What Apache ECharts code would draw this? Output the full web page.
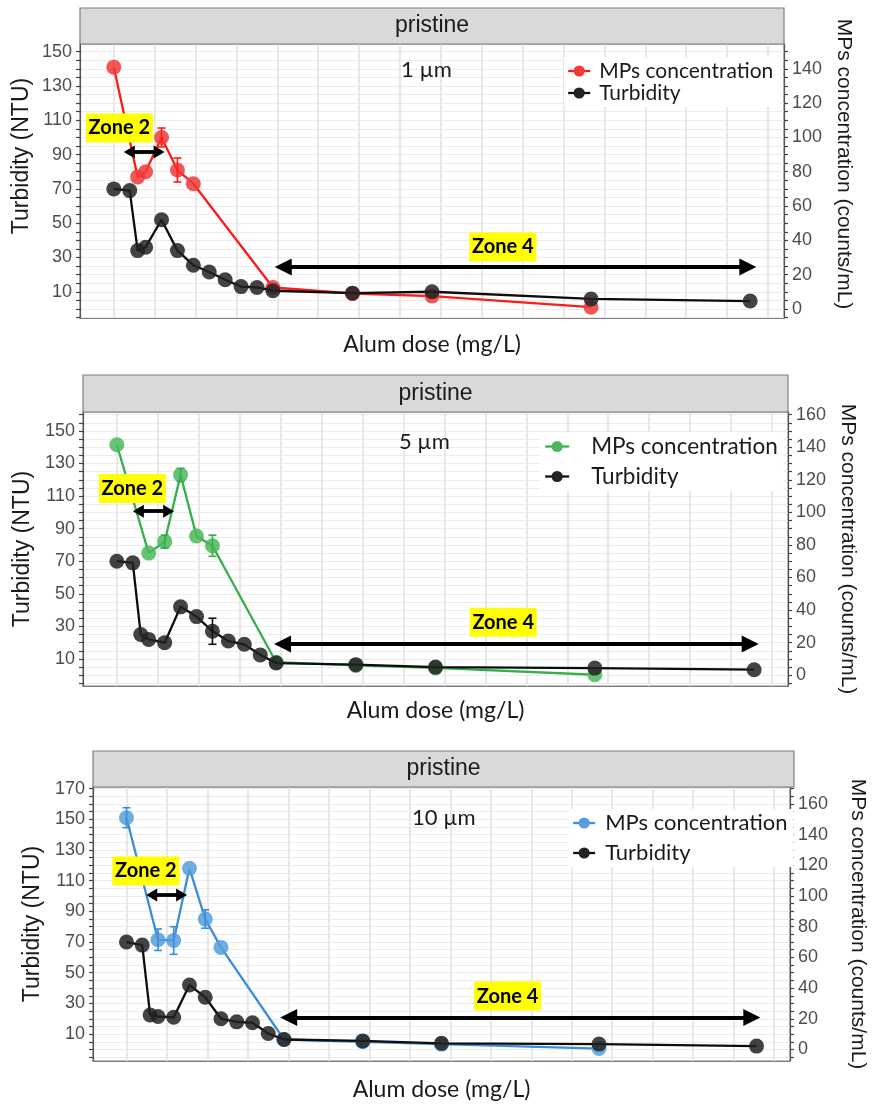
<!DOCTYPE html>
<html>
<head>
<meta charset="utf-8">
<script src="https://cdn.jsdelivr.net/npm/echarts@6/dist/echarts.min.js"></script>
<style>
  html, body { margin: 0; padding: 0; background: #ffffff; }
  #chart { width: 876px; height: 1107px; }
</style>
</head>
<body>
<div id="chart"></div>
<script>
// Alum dose steps (mg/L) used for the turbidity runs
const turbDoses = [0, 2, 3, 4, 6, 8, 10, 12, 14, 16, 18, 20, 30, 40, 60, 80];

// 1 µm particles
const mp1Doses  = [0, 3, 4, 6, 8, 10, 20, 30, 40, 60];
const mp1Values = [141, 77, 80, 100, 81, 73, 12.5, 9, 7.5, 1];
const mp1Err    = [0, 0, 0, 5.5, 7, 0, 0, 0, 0, 0];
const turb1Values = [70, 69, 34, 36, 52, 34, 25.5, 21.5, 17, 13, 12.5, 10.6, 9.2, 10, 5.8, 4.6];
const turb1Err    = [0, 0, 0, 0, 0, 0, 0, 0, 0, 0, 0, 0, 0, 0, 0, 0];

// 5 µm particles
const mp5Doses  = [0, 4, 6, 8, 10, 12, 20, 30, 40, 60];
const mp5Values = [141.5, 75, 82, 123, 85.5, 79.5, 8, 6, 4.5, 0.3];
const mp5Err    = [0, 0, 4, 4, 0, 6.5, 0, 0, 0, 0];
const turb5Values = [70, 69, 25, 22, 20, 42, 36, 27, 21, 19, 12.5, 7.5, 6.5, 5, 4.4, 3.4];
const turb5Err    = [0, 0, 0, 0, 0, 0, 0, 8, 0, 0, 0, 0, 0, 0, 0, 0];

// 10 µm particles
const mp10Doses  = [0, 4, 6, 8, 10, 12, 20, 30, 40, 60];
const mp10Values = [151, 71.5, 71, 118, 85, 66.5, 6.5, 5, 3.5, 0.6];
const mp10Err    = [6.5, 7, 9, 0, 6, 0, 0, 0, 0, 0];
const turb10Values = [70, 68, 22.5, 21.5, 21, 42, 34, 20, 18, 17.4, 10.4, 6.5, 5.6, 4, 3.5, 2.2];
const turb10Err    = [0, 0, 0, 0, 0, 0, 0, 0, 0, 0, 0, 0, 0, 0, 0, 0];

// Tick labels
const turbTicks1 = [10, 30, 50, 70, 90, 110, 130, 150];
const mpTicks1   = [0, 20, 40, 60, 80, 100, 120, 140];
const turbTicks5 = [10, 30, 50, 70, 90, 110, 130, 150];
const mpTicks5   = [0, 20, 40, 60, 80, 100, 120, 140, 160];
const turbTicks10 = [10, 30, 50, 70, 90, 110, 130, 150, 170];
const mpTicks10   = [0, 20, 40, 60, 80, 100, 120, 140, 160];

// Zone arrows and their tags, in axis units (dose, value)
const zones1 = [
  { name: 'Zone 2', from: 1.95, to: 5.7, y: 91.5, tagX: 0.7, tagY: 105.5, head: [13, 11] },
  { name: 'Zone 4', from: 21.3, to: 79.7, y: 24.4, tagX: 48.9, tagY: 36.1, head: [17, 17] }
];
const zones5 = [
  { name: 'Zone 2', from: 2.7, to: 6.5, y: 100.7, tagX: 1.95, tagY: 114.6, head: [13, 11] },
  { name: 'Zone 4', from: 20.8, to: 79.5, y: 19.2, tagX: 48.5, tagY: 32.6, head: [17, 17] }
];
const zones10 = [
  { name: 'Zone 2', from: 3.2, to: 7.0, y: 100.7, tagX: 2.46, tagY: 116.3, head: [13, 11] },
  { name: 'Zone 4', from: 20.6, to: 79.4, y: 20.9, tagX: 48.4, tagY: 34.8, head: [17, 17] }
];

const panels = [
  { size: '1 µm', sizeAt: [39.3, 139.3], color: '#ff1a1a', marker: '#f03a3a',
    mpDoses: mp1Doses, mpValues: mp1Values, mpErr: mp1Err,
    turbValues: turb1Values, turbErr: turb1Err,
    turbTicks: turbTicks1, mpTicks: mpTicks1, zones: zones1 },
  { size: '5 µm', sizeAt: [38.6, 143.5], color: '#33b04a', marker: '#4cb85c',
    mpDoses: mp5Doses, mpValues: mp5Values, mpErr: mp5Err,
    turbValues: turb5Values, turbErr: turb5Err,
    turbTicks: turbTicks5, mpTicks: mpTicks5, zones: zones5 },
  { size: '10 µm', sizeAt: [40.3, 151], color: '#3a8dd8', marker: '#559fdc',
    mpDoses: mp10Doses, mpValues: mp10Values, mpErr: mp10Err,
    turbValues: turb10Values, turbErr: turb10Err,
    turbTicks: turbTicks10, mpTicks: mpTicks10, zones: zones10 }
];

// Page layout of the three stacked panels
const layout = [
  { left: 80, top: 44, width: 704, height: 274, stripTop: 8, stripH: 36,
    yMin: -5.3, yMax: 154.5, xNameGap: 15, lNameGap: 47, rNameGap: 49,
    leftTitleAt: [22, 156], rightTitleAt: [844, 164],
    legend: { left: 564, top: 57, font: 21, gap: 0, iconW: 22, textPad: 4 } },
  { left: 83, top: 412, width: 705, height: 274, stripTop: 375, stripH: 37,
    yMin: -6.6, yMax: 161.6, xNameGap: 13, lNameGap: 47, rNameGap: 45,
    legend: { left: 541, top: 432, font: 22.5, gap: 7, iconW: 24, textPad: 17 } },
  { left: 93, top: 787, width: 701, height: 274, stripTop: 751, stripH: 36,
    yMin: -7.5, yMax: 171, xNameGap: 17, lNameGap: 47, rNameGap: 57,
    legend: { left: 569, top: 809, font: 22, gap: 8, iconW: 22, textPad: 5 } }
];

const X_MIN = -4.25, X_MAX = 84.25;
const X_GRID_STEP = 5.14;
const xGridValues = [];
for (let k = 0; k * X_GRID_STEP <= X_MAX; k++) xGridValues.push(+(k * X_GRID_STEP).toFixed(2));

function stepValues(min, max, step) {
  const out = [];
  for (let v = Math.ceil(min / step) * step; v <= max; v += step) out.push(v);
  return out;
}

const SANS = '"Liberation Sans", Arial, sans-serif';
const HUMAN = 'Lato, "Open Sans", sans-serif';
const INK = '#1a1a1a';
const TICK_INK = '#4d4d4d';
const LEFT_TITLE = 'Turbidity (NTU)';
const LEFT_TITLE_SIZE = 23;
const RIGHT_TITLE = 'MPs concentration (counts/mL)';
const RIGHT_TITLE_SIZE = 21;

function errorBars(params, api) {
  const x = api.value(0), v = api.value(1), e = api.value(2);
  if (!e) return null;
  const lo = api.coord([x, v - e]);
  const hi = api.coord([x, v + e]);
  const w = 4;
  const style = { stroke: api.visual('color'), lineWidth: 1.6 };
  return {
    type: 'group',
    children: [
      { type: 'line', shape: { x1: lo[0], y1: lo[1], x2: hi[0], y2: hi[1] }, style },
      { type: 'line', shape: { x1: lo[0] - w, y1: lo[1], x2: lo[0] + w, y2: lo[1] }, style },
      { type: 'line', shape: { x1: hi[0] - w, y1: hi[1], x2: hi[0] + w, y2: hi[1] }, style }
    ]
  };
}

const grid = [], xAxis = [], yAxis = [], series = [], legend = [], graphic = [];

panels.forEach((p, i) => {
  const L = layout[i];
  grid.push({
    left: L.left, top: L.top, width: L.width, height: L.height,
    show: true, backgroundColor: '#ffffff', borderColor: '#7f7f7f', borderWidth: 1.2
  });

  xAxis.push({
    gridIndex: i, type: 'value', min: X_MIN, max: X_MAX,
    name: 'Alum dose (mg/L)', nameLocation: 'middle', nameGap: L.xNameGap,
    nameTextStyle: { fontFamily: HUMAN, fontSize: 23, color: INK },
    axisLine: { show: true, onZero: false, lineStyle: { color: '#7f7f7f', width: 1.2 } },
    axisTick: { show: false, customValues: xGridValues },
    axisLabel: { show: false },
    splitLine: { show: true, lineStyle: { color: '#e6e6e6', width: 1.8 } }
  });

  const ticks = stepValues(L.yMin, L.yMax, 5);
  yAxis.push({
    gridIndex: i, type: 'value', position: 'left', min: L.yMin, max: L.yMax,
    name: L.leftTitleAt ? '' : LEFT_TITLE, nameLocation: 'middle', nameGap: L.lNameGap,
    nameTextStyle: { fontFamily: SANS, fontSize: LEFT_TITLE_SIZE, color: INK },
    axisLine: { show: true, onZero: false, lineStyle: { color: '#555555', width: 1.2 } },
    axisTick: { show: true, length: 4, customValues: ticks, lineStyle: { color: '#444444', width: 1.2 } },
    axisLabel: { customValues: p.turbTicks, margin: 8, fontFamily: SANS, fontSize: 18, color: TICK_INK },
    splitLine: { show: true, lineStyle: { color: '#ececec', width: 1.2 } }
  });
  yAxis.push({
    gridIndex: i, type: 'value', position: 'right', min: L.yMin, max: L.yMax,
    name: L.rightTitleAt ? '' : RIGHT_TITLE, nameLocation: 'middle', nameGap: L.rNameGap, nameRotate: -90,
    nameTextStyle: { fontFamily: SANS, fontSize: RIGHT_TITLE_SIZE, color: INK },
    axisLine: { show: true, onZero: false, lineStyle: { color: '#555555', width: 1.2 } },
    axisTick: { show: true, length: 4, customValues: ticks, lineStyle: { color: '#444444', width: 1.2 } },
    axisLabel: { customValues: p.mpTicks, margin: 8, fontFamily: SANS, fontSize: 18, color: TICK_INK },
    splitLine: { show: false }
  });

  const mpData = p.mpDoses.map((d, k) => [d, p.mpValues[k]]);
  const mpErrData = p.mpDoses.map((d, k) => [d, p.mpValues[k], p.mpErr[k]]);
  const turbData = turbDoses.map((d, k) => [d, p.turbValues[k]]);
  const turbErrData = turbDoses.map((d, k) => [d, p.turbValues[k], p.turbErr[k]]);

  series.push({
    type: 'line', name: 'MPs concentration', xAxisIndex: i, yAxisIndex: 2 * i + 1,
    data: mpData, symbol: 'circle', symbolSize: 15, z: 2,
    lineStyle: { color: p.color, width: 2.3 },
    itemStyle: { color: p.marker, opacity: 0.85 },
    emphasis: { disabled: true }, animation: false
  });
  series.push({
    type: 'custom', xAxisIndex: i, yAxisIndex: 2 * i + 1, z: 3,
    renderItem: errorBars, data: mpErrData, encode: { x: 0, y: 1 },
    itemStyle: { color: p.color }, silent: true, animation: false
  });
  series.push({
    type: 'line', name: 'Turbidity', xAxisIndex: i, yAxisIndex: 2 * i,
    data: turbData, symbol: 'circle', symbolSize: 15, z: 4,
    lineStyle: { color: '#0d0d0d', width: 2.3 },
    itemStyle: { color: '#222222', opacity: 0.85 },
    emphasis: { disabled: true }, animation: false,
    markLine: {
      silent: true, animation: false,
      label: { show: false },
      data: p.zones.map(z => [
        { coord: [z.from, z.y], symbol: 'triangle', symbolSize: z.head },
        { coord: [z.to, z.y], symbol: 'triangle', symbolSize: z.head }
      ]),
      lineStyle: { color: '#000000', width: 3.8, type: 'solid' }
    },
    markPoint: {
      silent: true, animation: false,
      data: p.zones.map(z => ({
        name: z.name, coord: [z.tagX, z.tagY],
        symbol: 'rect', symbolSize: [67, 29],
        itemStyle: { color: '#ffff00', opacity: 1 },
        label: { show: true, position: 'inside', formatter: z.name, color: '#000000',
                 fontFamily: HUMAN, fontWeight: 'bold', fontSize: 20 }
      })).concat([{
        name: p.size, coord: p.sizeAt, symbol: 'rect', symbolSize: 1,
        itemStyle: { color: 'rgba(0,0,0,0)' },
        label: { show: true, position: 'inside', formatter: p.size, color: INK,
                 fontFamily: HUMAN, fontSize: 22 }
      }])
    }
  });
  series.push({
    type: 'custom', xAxisIndex: i, yAxisIndex: 2 * i, z: 5,
    renderItem: errorBars, data: turbErrData, encode: { x: 0, y: 1 },
    itemStyle: { color: '#111111' }, silent: true, animation: false
  });

  const LG = L.legend;
  legend.push({
    orient: 'vertical', left: LG.left, top: LG.top,
    itemWidth: LG.iconW, itemHeight: 14, itemGap: LG.gap,
    padding: [3, 6, 3, 3], backgroundColor: '#ffffff',
    selectedMode: false,
    textStyle: { fontFamily: HUMAN, fontSize: LG.font, color: INK, lineHeight: 22,
                 padding: [0, 0, 0, LG.textPad] },
    data: [
      { name: 'MPs concentration', itemStyle: { color: p.marker, opacity: 1 }, lineStyle: { color: p.color, width: 2.3 } },
      { name: 'Turbidity', itemStyle: { color: '#222222', opacity: 1 }, lineStyle: { color: '#0d0d0d', width: 2.3 } }
    ]
  });

  // facet strip above the panel
  graphic.push({
    type: 'rect', z: 10,
    shape: { x: L.left, y: L.stripTop, width: L.width, height: L.stripH },
    style: { fill: '#d9d9d9', stroke: '#7f7f7f', lineWidth: 1.2 }
  });
  graphic.push({
    type: 'text', z: 11,
    x: L.left + L.width / 2, y: L.stripTop + L.stripH / 2,
    style: { text: 'pristine', fill: INK, font: '23px "Liberation Sans", Arial, sans-serif',
             textAlign: 'center', textVerticalAlign: 'middle' }
  });
  // axis titles placed by hand where they sit off-centre
  if (L.leftTitleAt) {
    graphic.push({
      type: 'text', z: 11, rotation: Math.PI / 2,
      x: L.leftTitleAt[0], y: L.leftTitleAt[1],
      style: { text: LEFT_TITLE, fill: INK, font: LEFT_TITLE_SIZE + 'px "Liberation Sans", Arial, sans-serif',
               textAlign: 'center', textVerticalAlign: 'middle' }
    });
  }
  if (L.rightTitleAt) {
    graphic.push({
      type: 'text', z: 11, rotation: -Math.PI / 2,
      x: L.rightTitleAt[0], y: L.rightTitleAt[1],
      style: { text: RIGHT_TITLE, fill: INK, font: RIGHT_TITLE_SIZE + 'px "Liberation Sans", Arial, sans-serif',
               textAlign: 'center', textVerticalAlign: 'middle' }
    });
  }
});

const chart = echarts.init(document.getElementById('chart'), null, { renderer: 'canvas' });
chart.setOption({
  animation: false,
  backgroundColor: '#ffffff',
  grid, xAxis, yAxis, series, legend, graphic
});
</script>
</body>
</html>
